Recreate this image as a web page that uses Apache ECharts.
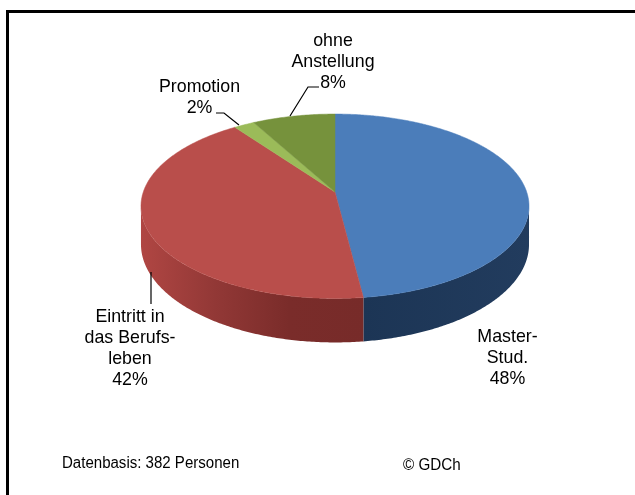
<!DOCTYPE html>
<html><head><meta charset="utf-8">
<style>html,body{margin:0;padding:0;background:#fff}#c{width:635px;height:495px}</style>
<script src="https://cdn.jsdelivr.net/npm/echarts@6/dist/echarts.min.js"></script>
</head><body><div id="c"></div>
<script>
const categories = ['Master-\nStud.', 'Eintritt in\ndas Berufs-\nleben', 'Promotion', 'ohne\nAnstellung'];
const shares = [48, 42, 2, 8];
const footnote = 'Datenbasis: 382 Personen';
const credit = '© GDCh';

const topColors = ['#4b7dba', '#b94e4b', '#9bbb59', '#76923c'];
const sideColors = [['#1c3555', '#223c5e'], ['#b04643', '#923836', '#7a2c2a', '#772b29'], ['#7a9a40', '#5d7530'], ['#5d7530', '#4d6128']];
// tilted disc seen in perspective: apex, half width, half height factor, perspective strength, rim depth
const pie = {cx: 335, apexY: 192, S: 191.7, T: 90, k: 0.1545, depth: 37.2};
const font = '17.8px "Liberation Sans", Arial, sans-serif';
const footFont = '16px "Liberation Sans", Arial, sans-serif';
const lineH = 21;
const labelPos = [[507.5, 358.5], [130, 348.5], [199.5, 97.5], [333, 62]];
const leaders = [null, [[151, 304], [151, 272]], [[216, 113], [224, 113], [239, 125]], [[319, 87], [308, 87], [290, 116]]];

const total = shares.reduce((a, b) => a + b, 0);
let acc = 0;
const rows = shares.map((v, i) => { const s = acc; acc += v; return [i, s / total, acc / total, v]; });

function pt(a, drop) {
  const X = Math.sin(a), Y = Math.cos(a), w = 1 + pie.k * Y;
  return [pie.cx + pie.S * X / w, pie.apexY - pie.T * Y / w + (drop ? pie.depth / w : 0)];
}
function arc(a0, a1, drop) {
  const n = Math.max(2, Math.ceil(Math.abs(a1 - a0) / 0.01)), out = [];
  for (let j = 0; j <= n; j++) out.push(pt(a0 + (a1 - a0) * j / n, drop));
  return out;
}
const TAU = Math.PI * 2, edge = Math.asin(pie.k);

function renderSlice(params, api) {
  const i = api.value(0), a0 = api.value(1) * TAU, a1 = api.value(2) * TAU;
  const children = [];
  const s0 = Math.max(a0, Math.PI / 2 + edge), s1 = Math.min(a1, Math.PI * 1.5 - edge);
  if (s1 > s0) {
    const xa = pt(s0)[0], xb = pt(s1)[0], lo = Math.min(xa, xb), hi = Math.max(xa, xb);
    const stops = sideColors[i].map((color, j, all) => ({offset: j / (all.length - 1), color}));
    children.push({
      type: 'polygon', shape: {points: arc(s0, s1, false).concat(arc(s1, s0, true))},
      style: {fill: new echarts.graphic.LinearGradient(lo, 0, hi, 0, stops, true)},
      z2: 1
    });
  }
  children.push({
    type: 'polygon',
    shape: {points: [[pie.cx, pie.apexY]].concat(arc(a0, a1, false))},
    style: {fill: topColors[i], stroke: topColors[i], lineWidth: 0.5},
    z2: 2 + i
  });
  children.push({
    type: 'text', z2: 20,
    style: {x: labelPos[i][0], y: labelPos[i][1], text: categories[i] + '\n' + shares[i] + '%', font,
      lineHeight: lineH, fill: '#000', align: 'center', verticalAlign: 'middle'}
  });
  if (leaders[i]) children.push({
    type: 'polyline', z2: 20, shape: {points: leaders[i]},
    style: {stroke: '#000', lineWidth: 1.2, fill: 'none'}
  });
  return {type: 'group', children};
}

const chart = echarts.init(document.getElementById('c'), null, {renderer: 'canvas'});
chart.setOption({
  animation: false,
  backgroundColor: '#fff',
  graphic: [
    {type: 'polyline', shape: {points: [[7.5, 495], [7.5, 11.5], [635, 11.5]]},
     style: {stroke: '#000', lineWidth: 3, fill: 'none'}},
    {type: 'text', x: 62, y: 464, scaleX: 0.94, style: {x: 0, y: 0, text: footnote, font: footFont, fill: '#000', verticalAlign: 'middle'}},
    {type: 'text', x: 403, y: 466, scaleX: 0.95, style: {x: 0, y: 0, text: credit, font: footFont, fill: '#000', verticalAlign: 'middle'}}
  ],
  series: [{type: 'custom', coordinateSystem: 'none', renderItem: renderSlice, data: rows, silent: true}]
});
</script></body></html>
